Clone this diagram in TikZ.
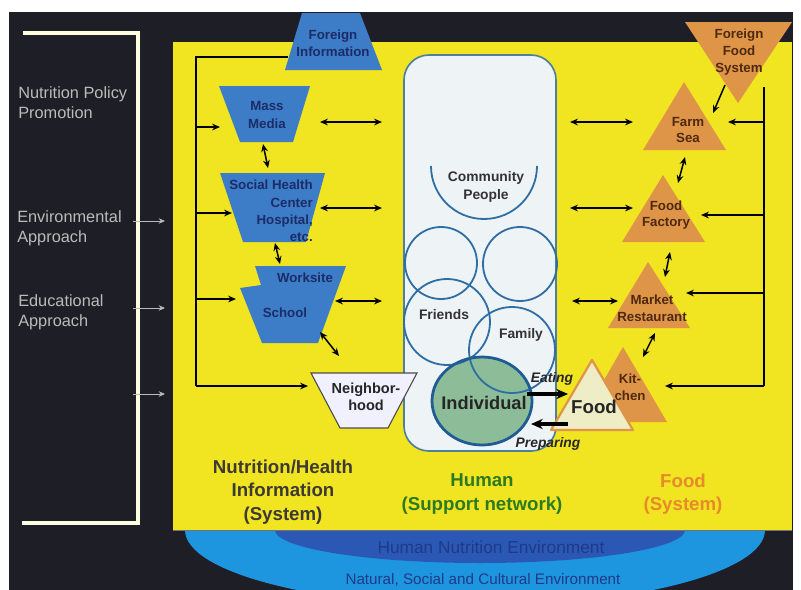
\documentclass[tikz,border=0pt]{standalone}
\usepackage{fontspec}
\setmainfont{Liberation Sans}
\usetikzlibrary{arrows.meta}
\definecolor{bgdark}{HTML}{1E1E27}
\definecolor{ylw}{HTML}{F1E521}
\definecolor{infoblue}{HTML}{3D7CC7}
\definecolor{infotext}{HTML}{1C2C66}
\definecolor{foodorange}{HTML}{DF9548}
\definecolor{foodtext}{HTML}{4D2A0F}
\definecolor{foodpale}{HTML}{EEEDC6}
\definecolor{netfill}{HTML}{EEF3F6}
\definecolor{netline}{HTML}{4E7F9E}
\definecolor{ringblue}{HTML}{2F6EA5}
\definecolor{indgreen}{HTML}{8CBD98}
\definecolor{indline}{HTML}{1F5C94}
\definecolor{humangreen}{HTML}{2C7A22}
\definecolor{sysorange}{HTML}{E68A2C}
\definecolor{skyblue}{HTML}{1D96DF}
\definecolor{deepblue}{HTML}{2C58B5}
\definecolor{envtext}{HTML}{1F3A88}
\definecolor{sidegrey}{HTML}{B9BCB8}
\tikzset{link/.style={line width=1.1pt,{Stealth[length=2mm,width=1.7mm]}-{Stealth[length=2mm,width=1.7mm]}},feed/.style={line width=1.1pt,-{Stealth[length=2mm,width=1.7mm]}},railline/.style={line width=1.3pt},hint/.style={sidegrey,line width=.7pt,-{Stealth[length=1.6mm,width=1.4mm]}},act/.style={line width=2.2pt,-{Stealth[length=3mm,width=2.6mm]}},bracket/.style={white!88!yellow,line width=2.2pt},infolbl/.style={anchor=center,inner sep=0pt,align=center,text=infotext,font=\fontsize{9.6}{12.5}\selectfont\bfseries},foodlbl/.style={anchor=center,inner sep=0pt,align=center,text=foodtext,font=\fontsize{9.6}{12}\selectfont\bfseries},netlbl/.style={anchor=center,inner sep=0pt,align=center,text=black!80,font=\fontsize{10}{12.5}\selectfont\bfseries},sidelbl/.style={anchor=north west,inner sep=0pt,align=left,text=sidegrey,font=\fontsize{11.8}{14.5}\selectfont},syslbl/.style={anchor=center,inner sep=0pt,align=center,font=\fontsize{13.5}{17}\selectfont\bfseries},ring/.style={ringblue,line width=1.3pt}}
\begin{document}
\begin{tikzpicture}[x=1in,y=-1in]
\path[use as bounding box] (0,0) rectangle (8.01,5.90);
\fill[white] (0,0) rectangle (8.01,5.90);
\fill[bgdark] (0.09,0.12) rectangle (7.93,5.90);
\begin{scope}
\clip (0.09,0.12) rectangle (7.93,5.90);
\fill[skyblue] (4.75,5.30) ellipse [x radius=2.90,y radius=0.76];
\fill[deepblue] (4.80,5.30) ellipse [x radius=2.05,y radius=0.33];
\end{scope}
\fill[ylw] (1.73,0.42) rectangle (7.92,5.30);
\draw[black!55,line width=.6pt] (1.73,5.30) -- (7.92,5.30);
\node[anchor=center,inner sep=0pt,text=envtext,font=\fontsize{12.5}{14}\selectfont] (hne) at (4.91,5.47) {Human Nutrition Environment};
\node[anchor=center,inner sep=0pt,text=envtext,font=\fontsize{11}{13}\selectfont] (nsce) at (4.83,5.80) {Natural, Social and Cultural Environment};
\draw[bracket] (0.23,0.33) -- (1.38,0.33) -- (1.38,5.23) -- (0.22,5.23);
\node[sidelbl] (npp) at (0.18,0.86) {Nutrition Policy\\Promotion};
\node[sidelbl] (env) at (0.17,2.10) {Environmental\\Approach};
\node[sidelbl] (edu) at (0.18,2.94) {Educational\\Approach};
\coordinate (env-s) at (1.33,2.21);
\coordinate (env-t) at (1.65,2.21);
\coordinate (edu-s) at (1.33,3.08);
\coordinate (edu-t) at (1.65,3.08);
\coordinate (low-s) at (1.33,3.94);
\coordinate (low-t) at (1.65,3.94);
\draw[hint] (env-s) -- (env-t);
\draw[hint] (edu-s) -- (edu-t);
\draw[hint] (low-s) -- (low-t);
\fill[infoblue] (3.02,0.13) -- (3.60,0.13) -- (3.82,0.70) -- (2.85,0.70) -- cycle;
\node[infolbl] (fi) at (3.33,0.43) {Foreign\\Information};
\fill[infoblue] (2.19,0.86) -- (3.10,0.86) -- (2.93,1.42) -- (2.40,1.42) -- cycle;
\node[infolbl] (mm) at (2.67,1.15) {Mass\\Media};
\fill[infoblue] (2.20,1.73) -- (3.25,1.73) -- (3.06,2.42) -- (2.43,2.42) -- cycle;
\node[infolbl,align=right,anchor=east] (shc) at (3.13,2.11) {Social Health\\Center\\Hospital,\\etc.};
\fill[infoblue] (2.55,2.66) -- (3.46,2.66) -- (3.18,3.43) -- (2.62,3.43) -- (2.40,2.88) -- (2.61,2.85) -- cycle;
\node[infolbl] (ws) at (3.05,2.78) {Worksite};
\node[infolbl] (sch) at (2.85,3.13) {School};
\coordinate (fi-foot) at (2.88,0.57);
\coordinate (lrail-bot) at (1.96,3.86);
\coordinate (lrail-1) at (1.96,1.27);
\coordinate (lrail-2) at (1.96,2.13);
\coordinate (lrail-3) at (1.96,2.99);
\coordinate (mm-w) at (2.20,1.27);
\coordinate (shc-w) at (2.32,2.13);
\coordinate (sch-w) at (2.36,2.99);
\coordinate (nb-w) at (3.08,3.86);
\draw[railline] (fi-foot) -| (lrail-bot);
\draw[feed] (lrail-1) -- (mm-w);
\draw[feed] (lrail-2) -- (shc-w);
\draw[feed] (lrail-3) -- (sch-w);
\draw[feed] (lrail-bot) -- (nb-w);
\coordinate (mm-s) at (2.63,1.44);
\coordinate (shc-n) at (2.68,1.68);
\coordinate (shc-s) at (2.75,2.43);
\coordinate (ws-n) at (2.80,2.64);
\coordinate (sch-se) at (3.20,3.32);
\coordinate (nb-n) at (3.39,3.56);
\draw[link] (mm-s) -- (shc-n);
\draw[link] (shc-s) -- (ws-n);
\draw[link] (sch-se) -- (nb-n);
\coordinate (mm-e) at (3.20,1.22);
\coordinate (shc-e) at (3.20,2.08);
\coordinate (sch-e) at (3.35,3.01);
\coordinate (net-w1) at (3.82,1.22);
\coordinate (net-w2) at (3.82,2.08);
\coordinate (net-w3) at (3.82,3.01);
\draw[link] (mm-e) -- (net-w1);
\draw[link] (shc-e) -- (net-w2);
\draw[link] (sch-e) -- (net-w3);
\draw[netline,fill=netfill,line width=1.2pt,rounded corners=18pt] (4.04,0.55) rectangle (5.56,4.51);
\draw[ring] (5.37,1.66) arc[start angle=0,end angle=180,radius=0.53];
\node[netlbl] (comm) at (4.86,1.87) {Community\\People};
\fill[indgreen] (4.82,4.01) ellipse [x radius=0.50,y radius=0.44];
\draw[ring] (4.41,2.63) circle [radius=0.36];
\draw[ring] (5.20,2.64) circle [radius=0.37];
\draw[ring] (4.47,3.22) circle [radius=0.43];
\draw[ring] (5.12,3.50) circle [radius=0.43];
\draw[indline,line width=2pt] (4.82,4.01) ellipse [x radius=0.50,y radius=0.44];
\node[netlbl] (frd) at (4.44,3.15) {Friends};
\node[netlbl] (fam) at (5.21,3.35) {Family};
\node[netlbl,text=black!85,font=\fontsize{13.2}{15}\selectfont\bfseries] (ind) at (4.84,4.03) {Individual};
\draw[black!70,fill=white!94!blue,line width=.8pt] (3.11,3.73) -- (4.17,3.73) -- (3.88,4.28) -- (3.40,4.28) -- cycle;
\node[netlbl,text=black!85,font=\fontsize{10.5}{12.5}\selectfont\bfseries] (nb) at (3.66,3.97) {Neighbor-\\hood};
\fill[foodorange] (6.85,0.22) -- (7.92,0.22) -- (7.38,1.03) -- cycle;
\node[foodlbl] (ffs) at (7.39,0.52) {Foreign\\Food\\System};
\fill[foodorange] (6.84,0.82) -- (7.26,1.50) -- (6.43,1.50) -- cycle;
\node[foodlbl] (farm) at (6.88,1.30) {Farm\\Sea};
\fill[foodorange] (6.63,1.75) -- (7.05,2.42) -- (6.22,2.42) -- cycle;
\node[foodlbl] (fact) at (6.66,2.15) {Food\\Factory};
\fill[foodorange] (6.48,2.62) -- (6.90,3.28) -- (6.08,3.28) -- cycle;
\node[foodlbl] (mkt) at (6.52,3.08) {Market\\Restaurant};
\fill[foodorange] (6.23,3.47) -- (6.67,4.22) -- (5.80,4.22) -- cycle;
\node[foodlbl] (kit) at (6.30,3.87) {Kit-\\chen};
\draw[foodorange,fill=foodpale,line width=1.6pt,line join=round] (5.92,3.60) -- (6.33,4.30) -- (5.51,4.30) -- cycle;
\node[netlbl,text=black!85,font=\fontsize{13.5}{15}\selectfont\bfseries] (food) at (5.94,4.07) {Food};
\coordinate (ffs-s) at (7.25,0.85);
\coordinate (farm-ne) at (7.13,1.13);
\draw[feed] (ffs-s) -- (farm-ne);
\coordinate (farm-s) at (6.85,1.57);
\coordinate (fact-n) at (6.78,1.83);
\coordinate (fact-s) at (6.70,2.52);
\coordinate (mkt-n) at (6.65,2.77);
\coordinate (mkt-s) at (6.55,3.33);
\coordinate (kit-n) at (6.43,3.57);
\draw[link] (farm-s) -- (fact-n);
\draw[link] (fact-s) -- (mkt-n);
\draw[link] (mkt-s) -- (kit-n);
\coordinate (net-e1) at (5.70,1.22);
\coordinate (net-e2) at (5.70,2.08);
\coordinate (net-e3) at (5.72,3.01);
\coordinate (farm-w) at (6.33,1.22);
\coordinate (fact-w) at (6.33,2.08);
\coordinate (mkt-w) at (6.18,3.01);
\draw[link] (net-e1) -- (farm-w);
\draw[link] (net-e2) -- (fact-w);
\draw[link] (net-e3) -- (mkt-w);
\coordinate (rrail-top) at (7.64,0.87);
\coordinate (rrail-1) at (7.64,1.22);
\coordinate (rrail-2) at (7.64,2.15);
\coordinate (rrail-3) at (7.64,2.93);
\coordinate (rrail-bot) at (7.64,3.86);
\coordinate (farm-e) at (7.28,1.22);
\coordinate (fact-e) at (7.01,2.15);
\coordinate (mkt-e) at (6.86,2.93);
\coordinate (kit-e) at (6.65,3.86);
\draw[railline] (rrail-top) -- (rrail-bot);
\draw[feed] (rrail-1) -- (farm-e);
\draw[feed] (rrail-2) -- (fact-e);
\draw[feed] (rrail-3) -- (mkt-e);
\draw[feed] (rrail-bot) -- (kit-e);
\coordinate (ind-e) at (5.27,3.94);
\coordinate (food-w) at (5.68,3.94);
\coordinate (food-sw) at (5.68,4.24);
\coordinate (ind-se) at (5.31,4.24);
\draw[act] (ind-e) -- (food-w);
\draw[act] (food-sw) -- (ind-se);
\node[anchor=center,inner sep=0pt,text=black!85,font=\fontsize{10}{12}\selectfont\bfseries\itshape] (eat) at (5.52,3.79) {Eating};
\node[anchor=center,inner sep=0pt,text=black!85,font=\fontsize{10}{12}\selectfont\bfseries\itshape] (prep) at (5.48,4.44) {Preparing};
\node[syslbl,text=black!88!yellow] (nhis) at (2.83,4.92) {Nutrition/Health\\Information\\(System)};
\node[syslbl,text=humangreen] (hsn) at (4.82,4.94) {Human\\(Support network)};
\node[syslbl,text=sysorange] (fsys) at (6.83,4.94) {Food\\(System)};
\end{tikzpicture}
\end{document}
